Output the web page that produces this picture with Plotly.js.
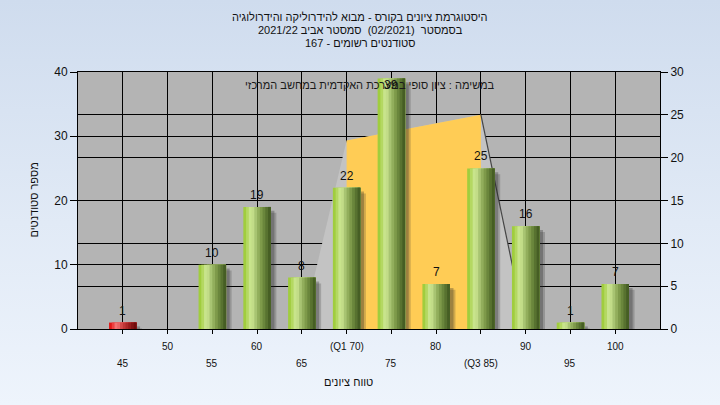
<!DOCTYPE html>
<html><head><meta charset="utf-8">
<script src="https://cdn.plot.ly/plotly-3.0.1.min.js"></script>
<style>
html,body{margin:0;padding:0;width:720px;height:405px;overflow:hidden;background:linear-gradient(to bottom,#cfdcee 0%,#e1eaf6 55%,#eef4fc 100%);}
#chart{width:720px;height:405px;}
</style></head><body><div id="chart"></div>
<script>
// ---- data ----
const grades = [45, 50, 55, 60, 65, 70, 75, 80, 85, 90, 95, 100];
const counts = [1, 0, 10, 19, 8, 22, 39, 7, 25, 16, 1, 7];
const tickLabels = ['45', '50', '55', '60', '65', '(Q1 70)', '75', '80', '(Q3 85)', '90', '95', '100'];
const failBelow = 50;
// quartile polygon (right axis)
const spreadX = [65, 70, 85, 90];
const spreadY = [0, 22, 25, 0];
const iqrX = [70, 70, 85, 85];
const iqrY = [0, 22, 25, 0];
const edgeX = [85, 90];
const edgeY = [25, 0];
const titleLines = [
  'היסטוגרמת ציונים בקורס - מבוא להידרוליקה והידרולוגיה',
  'בסמסטר  (02/2021)  סמסטר אביב 2021/22',
  'סטודנטים רשומים - 167'
];
const noteText = 'במשימה : ציון סופי במערכת האקדמית במחשב המרכזי';
const xTitle = 'טווח ציונים';
const yTitle = 'מספר סטודנטים';

// ---- styling ----
const FONT = 'Liberation Sans, Arial, sans-serif';
const L = 78, R = 660, T = 72, B = 329;
const px = x => (x - L) / (R - L);
const py = y => (B - y) / (B - T);

const greens = ['#a0cd3e','#b4d862','#c8e48c','#c2dc88','#a8c472','#92ae5c','#7e9a4a','#6a863c','#587230','#465e24'];
const reds   = ['#e01818','#ec4040','#f27272','#e86464','#d44a4a','#c03636','#ac2828','#981c1c','#841414','#700c0c'];
const W = 3.07, N = greens.length;

const traces = [];
// polygon on right axis (main y)
traces.push({x: spreadX, y: spreadY, type: 'scatter', mode: 'lines', fill: 'toself',
  fillcolor: '#c3c3c3', line: {width: 0}, yaxis: 'y', hoverinfo: 'skip'});
traces.push({x: iqrX, y: iqrY, type: 'scatter', mode: 'lines', fill: 'toself',
  fillcolor: '#ffcc55', line: {width: 0}, yaxis: 'y', hoverinfo: 'skip'});
traces.push({x: edgeX, y: edgeY, type: 'scatter', mode: 'lines',
  line: {width: 1.2, color: '#454545'}, yaxis: 'y', hoverinfo: 'skip'});

// shadows
const sh = [[0.62, 'rgba(40,40,40,0.22)', 0.9], [0.4, 'rgba(40,40,40,0.3)', 0.6]];
sh.forEach(([dx, col, dy]) => {
  traces.push({x: grades, y: counts.map(v => v > 0 ? Math.max(v - dy, 0) : 0), type: 'bar',
    width: W, offset: -W / 2 + dx, marker: {color: col, line: {width: 0}}, yaxis: 'y2', hoverinfo: 'skip'});
});
// cylinder strips
for (let i = 0; i < N; i++) {
  traces.push({x: grades, y: counts, type: 'bar', yaxis: 'y2', hoverinfo: 'skip',
    width: W - i * W / N, offset: -W / 2 + i * W / N,
    marker: {color: grades.map(g => g < failBelow ? reds[i] : greens[i]), line: {width: 0}}});
}

const ann = [];
titleLines.forEach((t, i) => ann.push({text: t, xref: 'paper', yref: 'paper', x: px(360), y: py([17, 30, 43][i]),
  xanchor: 'center', yanchor: 'middle', showarrow: false, font: {family: FONT, size: 11, color: '#111'}}));
ann.push({text: noteText, xref: 'paper', yref: 'paper', x: px(370), y: py(85), xanchor: 'center', yanchor: 'middle',
  showarrow: false, font: {family: FONT, size: 11, color: '#1a1a1a'}});
grades.forEach((g, i) => {
  const upper = i % 2 === 1;
  ann.push({text: tickLabels[i], xref: 'x', yref: 'paper', x: g, y: 0, yanchor: 'middle', xanchor: 'center',
    yshift: upper ? -17 : -34, showarrow: false, font: {family: FONT, size: 10, color: '#111'}});
  if (counts[i] > 0) {
    ann.push({text: String(counts[i]), xref: 'x', yref: 'y2', x: g, y: counts[i], yanchor: 'middle', xanchor: 'center',
      yshift: counts[i] > 36 ? -7 : 12, showarrow: false, font: {family: FONT, size: 12, color: '#111'}});
  }
});
ann.push({text: xTitle, xref: 'paper', yref: 'paper', x: px(348), y: 0, yshift: -53, yanchor: 'middle',
  showarrow: false, font: {family: FONT, size: 11, color: '#111'}});
ann.push({text: yTitle, xref: 'paper', yref: 'paper', x: px(33), y: 0.5, textangle: -90, xanchor: 'center', yanchor: 'middle',
  showarrow: false, font: {family: FONT, size: 11, color: '#111'}});

const axisCommon = {ticks: 'outside', tickcolor: '#000', showgrid: true, gridcolor: '#000', gridwidth: 1,
  showline: true, linecolor: '#000', linewidth: 1, zeroline: false, fixedrange: true,
  tickfont: {family: FONT, size: 12, color: '#111'}};

const layout = {
  width: 720, height: 405,
  margin: {l: L, r: 720 - R, t: T, b: 405 - B, pad: 0},
  paper_bgcolor: 'rgba(0,0,0,0)', plot_bgcolor: '#b4b4b4',
  showlegend: false, barmode: 'overlay',
  xaxis: Object.assign({}, axisCommon, {range: [40, 105], tickmode: 'array', tickvals: grades, showticklabels: false,
    ticklen: 4, mirror: true}),
  yaxis: Object.assign({}, axisCommon, {range: [0, 30], dtick: 5, side: 'right', ticklen: 7}),
  yaxis2: Object.assign({}, axisCommon, {range: [0, 40], dtick: 10, side: 'left', overlaying: 'y', ticklen: 7}),
  annotations: ann
};
Plotly.newPlot('chart', traces, layout, {staticPlot: true, displayModeBar: false});
</script></body></html>
